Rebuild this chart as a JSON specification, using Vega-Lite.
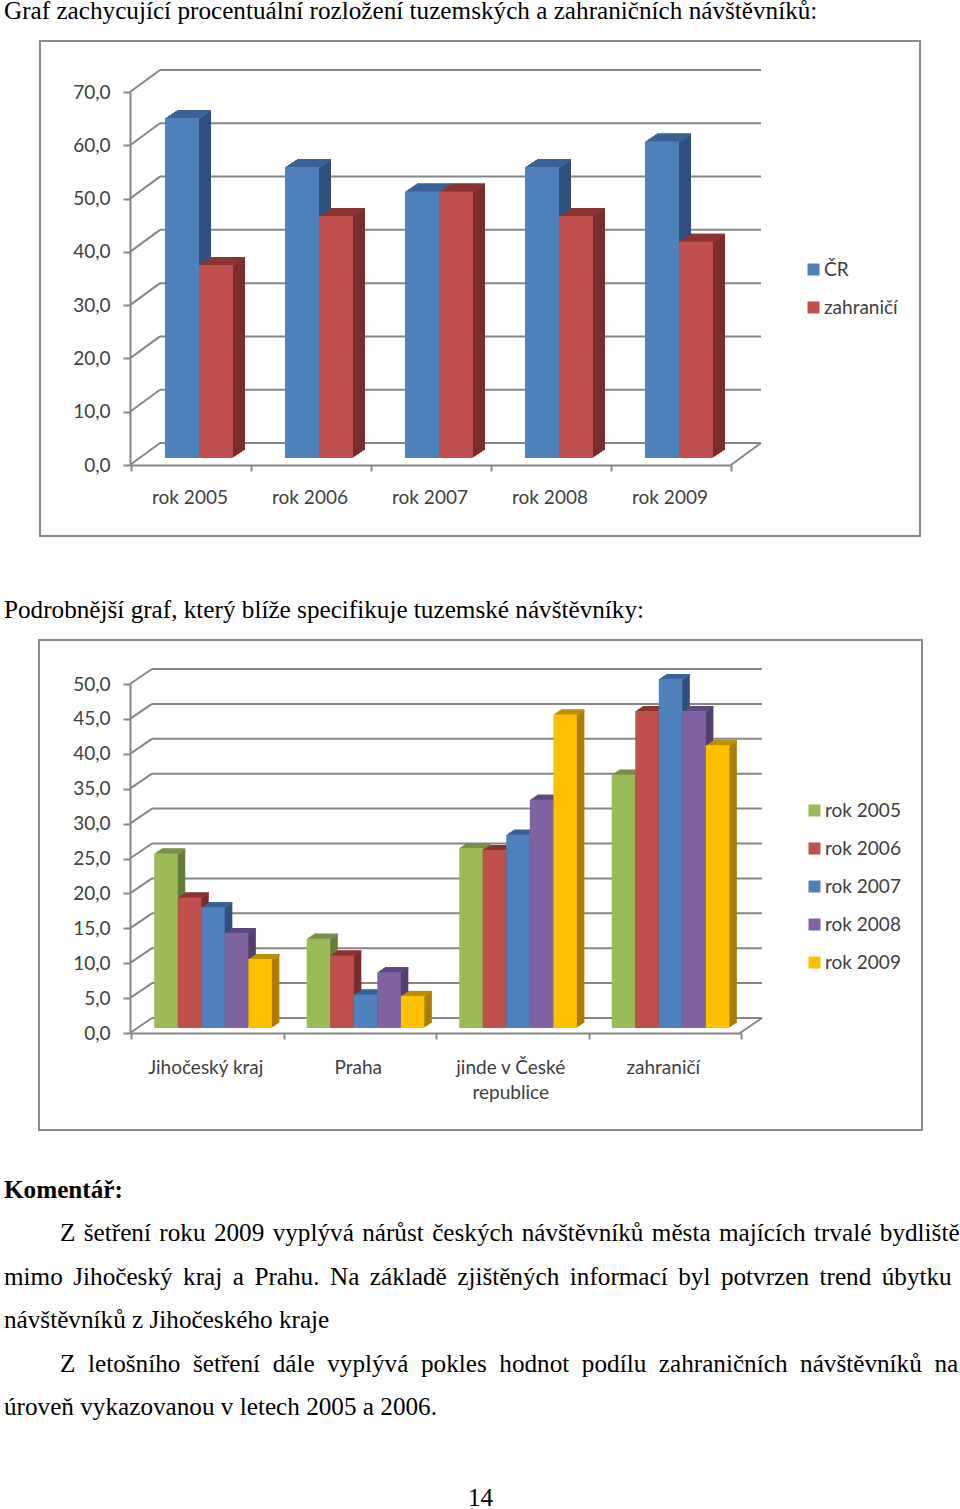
{"$schema":"https://vega.github.io/schema/vega-lite/v6.json","width":960,"height":1509,"padding":0,"autosize":{"type":"none"},"background":"white","config":{"view":{"stroke":null},"axis":{"labelFont":"Lato","labelFontSize":19,"labelColor":"#404040","domainColor":"#868686","domainWidth":2,"tickColor":"#868686","tickWidth":2,"grid":false,"title":null},"legend":{"labelFont":"Lato","labelFontSize":19,"labelColor":"#404040","symbolType":"square","symbolStrokeWidth":0,"symbolSize":144,"title":null,"padding":0}},
"datasets":{
"c1":[{"rok":"rok 2005","skupina":"ČR","podil":63.8},{"rok":"rok 2005","skupina":"zahraničí","podil":36.2},{"rok":"rok 2006","skupina":"ČR","podil":54.6},{"rok":"rok 2006","skupina":"zahraničí","podil":45.4},{"rok":"rok 2007","skupina":"ČR","podil":50.0},{"rok":"rok 2007","skupina":"zahraničí","podil":50.0},{"rok":"rok 2008","skupina":"ČR","podil":54.6},{"rok":"rok 2008","skupina":"zahraničí","podil":45.4},{"rok":"rok 2009","skupina":"ČR","podil":59.4},{"rok":"rok 2009","skupina":"zahraničí","podil":40.6}],
"c2":[{"misto":"Jihočeský kraj","rok":"rok 2005","podil":25.0},{"misto":"Jihočeský kraj","rok":"rok 2006","podil":18.7},{"misto":"Jihočeský kraj","rok":"rok 2007","podil":17.3},{"misto":"Jihočeský kraj","rok":"rok 2008","podil":13.6},{"misto":"Jihočeský kraj","rok":"rok 2009","podil":9.9},{"misto":"Praha","rok":"rok 2005","podil":12.8},{"misto":"Praha","rok":"rok 2006","podil":10.4},{"misto":"Praha","rok":"rok 2007","podil":4.8},{"misto":"Praha","rok":"rok 2008","podil":8.0},{"misto":"Praha","rok":"rok 2009","podil":4.6},{"misto":"jinde v České republice","rok":"rok 2005","podil":25.8},{"misto":"jinde v České republice","rok":"rok 2006","podil":25.5},{"misto":"jinde v České republice","rok":"rok 2007","podil":27.7},{"misto":"jinde v České republice","rok":"rok 2008","podil":32.7},{"misto":"jinde v České republice","rok":"rok 2009","podil":44.9},{"misto":"zahraničí","rok":"rok 2005","podil":36.3},{"misto":"zahraničí","rok":"rok 2006","podil":45.4},{"misto":"zahraničí","rok":"rok 2007","podil":50.0},{"misto":"zahraničí","rok":"rok 2008","podil":45.4},{"misto":"zahraničí","rok":"rok 2009","podil":40.5}],
"t1":[{"v":0},{"v":10},{"v":20},{"v":30},{"v":40},{"v":50},{"v":60},{"v":70}],
"t2":[{"v":0},{"v":5},{"v":10},{"v":15},{"v":20},{"v":25},{"v":30},{"v":35},{"v":40},{"v":45},{"v":50}],
"one":[{"v":0}],
"txt":[{"line":1,"level":0,"text":"Graf zachycující procentuální rozložení tuzemských a zahraničních návštěvníků:"},{"line":2,"level":0,"text":"Podrobnější graf, který blíže specifikuje tuzemské návštěvníky:"},{"line":3,"level":0,"bold":true,"text":"Komentář:"},{"line":4,"level":1,"text":"Z \u200ašetření \u200aroku \u200a2009 \u200avyplývá \u200anárůst \u200ačeských \u200anávštěvníků \u200aměsta \u200amajících \u200atrvalé \u200abydliště"},{"line":5,"level":0,"text":"mimo \u2006Jihočeský \u2006kraj \u2006a \u2006Prahu. \u2006Na \u2006základě \u2006zjištěných \u2006informací \u2006byl \u2006potvrzen \u2006trend \u2006úbytku"},{"line":6,"level":0,"text":"návštěvníků z Jihočeského kraje"},{"line":7,"level":1,"text":"Z \u2005letošního \u2005šetření \u2005dále \u2005vyplývá \u2005pokles \u2005hodnot \u2005podílu \u2005zahraničních \u2005návštěvníků \u2005na"},{"line":8,"level":0,"text":"úroveň vykazovanou v letech 2005 a 2006."},{"line":9,"level":2,"text":"14"}]
},
"layer":[
{"data":{"name":"one"},"mark":{"type":"rect","fillOpacity":0,"stroke":"#8a8a8a","strokeWidth":2},"encoding":{"x":{"datum":0,"type":"quantitative","axis":null,"scale":{"domain":[0,1],"range":[40,920]}},"x2":{"datum":1},"y":{"datum":0,"type":"quantitative","axis":null,"scale":{"domain":[0,1],"range":[536,41]}},"y2":{"datum":1}}},
{"data":{"name":"one"},"mark":{"type":"rect","fillOpacity":0,"stroke":"#8a8a8a","strokeWidth":2},"encoding":{"x":{"datum":0,"type":"quantitative","axis":null,"scale":{"domain":[0,1],"range":[39,922]}},"x2":{"datum":1},"y":{"datum":0,"type":"quantitative","axis":null,"scale":{"domain":[0,1],"range":[1130,640]}},"y2":{"datum":1}}},
{"data":{"name":"t1"},"mark":{"type":"rule","color":"#868686","strokeWidth":2,"xOffset":30,"x2Offset":30,"yOffset":-22,"y2Offset":-22},"encoding":{"x":{"datum":0,"type":"quantitative","axis":null,"scale":{"domain":[0,1],"range":[130,731]}},"x2":{"datum":1},"y":{"field":"v","type":"quantitative","axis":{"orient":"left","offset":-130,"zindex":1,"values":[0,10,20,30,40,50,60,70],"tickSize":7,"labelPadding":13,"labelExpr":"replace(format(datum.value,'.1f'),'.',',')"},"scale":{"domain":[0,70],"range":[465,92]}},"y2":{"field":"v"}}},
{"data":{"name":"t1"},"encoding":{"x":{"datum":0,"type":"quantitative","axis":null,"scale":{"domain":[0,1],"range":[130,731]}},"x2":{"datum":0},"y":{"field":"v","type":"quantitative","axis":null,"scale":{"domain":[0,70],"range":[465,92]}},"y2":{"field":"v"}},"layer":[
{"mark":{"type":"rule","color":"#868686","strokeWidth":2,"x2Offset":30,"y2Offset":-22}},
{"transform":[{"filter":"datum.v==0"}],"mark":{"type":"rule","color":"#868686","strokeWidth":2,"x2Offset":30,"y2Offset":-22},"encoding":{"x":{"datum":1,"type":"quantitative"},"x2":{"datum":1}}}
]},
{"data":{"name":"c1"},"resolve":{"scale":{"xOffset":"independent"}},"encoding":{"x":{"field":"rok","type":"nominal","axis":null,"scale":{"range":[131,731],"padding":0}},"y":{"field":"podil","type":"quantitative","axis":null,"scale":{"domain":[0,70],"range":[465,92]}},"y2":{"datum":0},"color":{"field":"skupina","type":"nominal","legend":null,"scale":{"domain":["ČR","zahraničí"],"range":["#2f5080","#7a2d2c"]}}},"layer":[
{"mark":{"type":"rect","yOffset":-15,"y2Offset":-15},"encoding":{"xOffset":{"field":"skupina","type":"nominal","scale":{"domain":["ČR","zahraničí"],"paddingInner":0,"paddingOuter":0.765,"range":[20,140]}}}},
{"mark":{"type":"rect","yOffset":-14,"y2Offset":-14},"encoding":{"xOffset":{"field":"skupina","type":"nominal","scale":{"domain":["ČR","zahraničí"],"paddingInner":0,"paddingOuter":0.765,"range":[18.5,138.5]}}}},
{"mark":{"type":"rect","yOffset":-13,"y2Offset":-13},"encoding":{"xOffset":{"field":"skupina","type":"nominal","scale":{"domain":["ČR","zahraničí"],"paddingInner":0,"paddingOuter":0.765,"range":[17,137]}}}},
{"mark":{"type":"rect","yOffset":-12,"y2Offset":-12},"encoding":{"xOffset":{"field":"skupina","type":"nominal","scale":{"domain":["ČR","zahraničí"],"paddingInner":0,"paddingOuter":0.765,"range":[15.5,135.5]}}}},
{"mark":{"type":"rect","yOffset":-11,"y2Offset":-11},"encoding":{"xOffset":{"field":"skupina","type":"nominal","scale":{"domain":["ČR","zahraničí"],"paddingInner":0,"paddingOuter":0.765,"range":[14,134]}}}},
{"mark":{"type":"rect","yOffset":-10,"y2Offset":-10},"encoding":{"xOffset":{"field":"skupina","type":"nominal","scale":{"domain":["ČR","zahraničí"],"paddingInner":0,"paddingOuter":0.765,"range":[12.5,132.5]}}}},
{"mark":{"type":"rect","yOffset":-9,"y2Offset":-9},"encoding":{"xOffset":{"field":"skupina","type":"nominal","scale":{"domain":["ČR","zahraničí"],"paddingInner":0,"paddingOuter":0.765,"range":[11,131]}}}},
{"mark":{"type":"rect","yOffset":-8,"y2Offset":-8},"encoding":{"xOffset":{"field":"skupina","type":"nominal","scale":{"domain":["ČR","zahraničí"],"paddingInner":0,"paddingOuter":0.765,"range":[9.5,129.5]}}}}
]},
{"data":{"name":"c1"},"resolve":{"scale":{"xOffset":"independent"}},"encoding":{"x":{"field":"rok","type":"nominal","axis":null,"scale":{"range":[131,731],"padding":0}},"y":{"field":"podil","type":"quantitative","axis":null,"scale":{"domain":[0,70],"range":[465,92]}},"y2":{"field":"podil"},"color":{"field":"skupina","type":"nominal","legend":null,"scale":{"domain":["ČR","zahraničí"],"range":["#3a6294","#8a3532"]}}},"layer":[
{"mark":{"type":"rect","yOffset":-15,"y2Offset":-13},"encoding":{"xOffset":{"field":"skupina","type":"nominal","scale":{"domain":["ČR","zahraničí"],"paddingInner":0,"paddingOuter":0.765,"range":[20,140]}}}},
{"mark":{"type":"rect","yOffset":-14,"y2Offset":-12},"encoding":{"xOffset":{"field":"skupina","type":"nominal","scale":{"domain":["ČR","zahraničí"],"paddingInner":0,"paddingOuter":0.765,"range":[18.5,138.5]}}}},
{"mark":{"type":"rect","yOffset":-13,"y2Offset":-11},"encoding":{"xOffset":{"field":"skupina","type":"nominal","scale":{"domain":["ČR","zahraničí"],"paddingInner":0,"paddingOuter":0.765,"range":[17,137]}}}},
{"mark":{"type":"rect","yOffset":-12,"y2Offset":-10},"encoding":{"xOffset":{"field":"skupina","type":"nominal","scale":{"domain":["ČR","zahraničí"],"paddingInner":0,"paddingOuter":0.765,"range":[15.5,135.5]}}}},
{"mark":{"type":"rect","yOffset":-11,"y2Offset":-9},"encoding":{"xOffset":{"field":"skupina","type":"nominal","scale":{"domain":["ČR","zahraničí"],"paddingInner":0,"paddingOuter":0.765,"range":[14,134]}}}},
{"mark":{"type":"rect","yOffset":-10,"y2Offset":-8},"encoding":{"xOffset":{"field":"skupina","type":"nominal","scale":{"domain":["ČR","zahraničí"],"paddingInner":0,"paddingOuter":0.765,"range":[12.5,132.5]}}}},
{"mark":{"type":"rect","yOffset":-9,"y2Offset":-7},"encoding":{"xOffset":{"field":"skupina","type":"nominal","scale":{"domain":["ČR","zahraničí"],"paddingInner":0,"paddingOuter":0.765,"range":[11,131]}}}},
{"mark":{"type":"rect","yOffset":-8,"y2Offset":-6},"encoding":{"xOffset":{"field":"skupina","type":"nominal","scale":{"domain":["ČR","zahraničí"],"paddingInner":0,"paddingOuter":0.765,"range":[9.5,129.5]}}}}
]},
{"data":{"name":"c1"},"mark":{"type":"rect","yOffset":-7,"y2Offset":-7},"encoding":{"x":{"field":"rok","type":"nominal","axis":null,"scale":{"range":[131,731],"padding":0}},"xOffset":{"field":"skupina","type":"nominal","scale":{"domain":["ČR","zahraničí"],"paddingInner":0,"paddingOuter":0.765,"range":[8,128]}},"y":{"field":"podil","type":"quantitative","axis":null,"scale":{"domain":[0,70],"range":[465,92]}},"y2":{"datum":0},"color":{"field":"skupina","type":"nominal","legend":{"orient":"none","legendX":804,"legendY":260,"rowPadding":18,"labelOffset":1},"scale":{"domain":["ČR","zahraničí"],"range":["#4f81bd","#c0504d"]}}}},
{"data":{"name":"c1"},"mark":{"type":"rect","opacity":0},"encoding":{"x":{"field":"rok","type":"nominal","axis":{"orient":"bottom","offset":-1044,"labelAngle":0,"tickBand":"extent","tickSize":6,"labelPadding":17,"labelOffset":-1.5},"scale":{"range":[131,731],"padding":0}},"y":{"datum":0,"type":"quantitative","axis":null,"scale":{"domain":[0,70],"range":[465,92]}},"y2":{"datum":0}}},
{"data":{"name":"t2"},"mark":{"type":"rule","color":"#868686","strokeWidth":2,"xOffset":22,"x2Offset":22,"yOffset":-15,"y2Offset":-15},"encoding":{"x":{"datum":0,"type":"quantitative","axis":null,"scale":{"domain":[0,1],"range":[130,740]}},"x2":{"datum":1},"y":{"field":"v","type":"quantitative","axis":{"orient":"left","offset":-130,"zindex":1,"values":[0,5,10,15,20,25,30,35,40,45,50],"tickSize":7,"labelPadding":13,"labelExpr":"replace(format(datum.value,'.1f'),'.',',')"},"scale":{"domain":[0,50],"range":[1033,684]}},"y2":{"field":"v"}}},
{"data":{"name":"t2"},"encoding":{"x":{"datum":0,"type":"quantitative","axis":null,"scale":{"domain":[0,1],"range":[130,740]}},"x2":{"datum":0},"y":{"field":"v","type":"quantitative","axis":null,"scale":{"domain":[0,50],"range":[1033,684]}},"y2":{"field":"v"}},"layer":[
{"mark":{"type":"rule","color":"#868686","strokeWidth":2,"x2Offset":22,"y2Offset":-15}},
{"transform":[{"filter":"datum.v==0"}],"mark":{"type":"rule","color":"#868686","strokeWidth":2,"x2Offset":22,"y2Offset":-15},"encoding":{"x":{"datum":1,"type":"quantitative"},"x2":{"datum":1}}}
]},
{"data":{"name":"c2"},"resolve":{"scale":{"xOffset":"independent"}},"encoding":{"x":{"field":"misto","type":"nominal","axis":null,"sort":["Jihočeský kraj","Praha","jinde v České republice","zahraničí"],"scale":{"range":[131,741],"padding":0}},"y":{"field":"podil","type":"quantitative","axis":null,"scale":{"domain":[0,50],"range":[1033,684]}},"y2":{"datum":0},"color":{"field":"rok","type":"nominal","legend":null,"scale":{"range":["#667c3a","#7a2d2c","#2f5080","#533f6f","#a87f00"]}}},"layer":[
{"mark":{"type":"rect","yOffset":-10,"y2Offset":-10},"encoding":{"xOffset":{"field":"rok","type":"nominal","scale":{"paddingInner":0,"paddingOuter":0.741,"range":[13.3,165.8]}}}},
{"mark":{"type":"rect","yOffset":-9,"y2Offset":-9},"encoding":{"xOffset":{"field":"rok","type":"nominal","scale":{"paddingInner":0,"paddingOuter":0.741,"range":[11.8,164.3]}}}},
{"mark":{"type":"rect","yOffset":-8,"y2Offset":-8},"encoding":{"xOffset":{"field":"rok","type":"nominal","scale":{"paddingInner":0,"paddingOuter":0.741,"range":[10.3,162.8]}}}},
{"mark":{"type":"rect","yOffset":-7,"y2Offset":-7},"encoding":{"xOffset":{"field":"rok","type":"nominal","scale":{"paddingInner":0,"paddingOuter":0.741,"range":[8.8,161.3]}}}},
{"mark":{"type":"rect","yOffset":-6,"y2Offset":-6},"encoding":{"xOffset":{"field":"rok","type":"nominal","scale":{"paddingInner":0,"paddingOuter":0.741,"range":[7.3,159.8]}}}}
]},
{"data":{"name":"c2"},"resolve":{"scale":{"xOffset":"independent"}},"encoding":{"x":{"field":"misto","type":"nominal","axis":null,"sort":["Jihočeský kraj","Praha","jinde v České republice","zahraničí"],"scale":{"range":[131,741],"padding":0}},"y":{"field":"podil","type":"quantitative","axis":null,"scale":{"domain":[0,50],"range":[1033,684]}},"y2":{"field":"podil"},"color":{"field":"rok","type":"nominal","legend":null,"scale":{"range":["#7a9147","#8a3532","#3a6294","#5e4980","#bd8f00"]}}},"layer":[
{"mark":{"type":"rect","yOffset":-10,"y2Offset":-8},"encoding":{"xOffset":{"field":"rok","type":"nominal","scale":{"paddingInner":0,"paddingOuter":0.741,"range":[13.3,165.8]}}}},
{"mark":{"type":"rect","yOffset":-9,"y2Offset":-7},"encoding":{"xOffset":{"field":"rok","type":"nominal","scale":{"paddingInner":0,"paddingOuter":0.741,"range":[11.8,164.3]}}}},
{"mark":{"type":"rect","yOffset":-8,"y2Offset":-6},"encoding":{"xOffset":{"field":"rok","type":"nominal","scale":{"paddingInner":0,"paddingOuter":0.741,"range":[10.3,162.8]}}}},
{"mark":{"type":"rect","yOffset":-7,"y2Offset":-5},"encoding":{"xOffset":{"field":"rok","type":"nominal","scale":{"paddingInner":0,"paddingOuter":0.741,"range":[8.8,161.3]}}}},
{"mark":{"type":"rect","yOffset":-6,"y2Offset":-4},"encoding":{"xOffset":{"field":"rok","type":"nominal","scale":{"paddingInner":0,"paddingOuter":0.741,"range":[7.3,159.8]}}}}
]},
{"data":{"name":"c2"},"mark":{"type":"rect","yOffset":-5,"y2Offset":-5},"encoding":{"x":{"field":"misto","type":"nominal","sort":["Jihočeský kraj","Praha","jinde v České republice","zahraničí"],"axis":null,"scale":{"range":[131,741],"padding":0}},"xOffset":{"field":"rok","type":"nominal","scale":{"paddingInner":0,"paddingOuter":0.741,"range":[5.8,158.3]}},"y":{"field":"podil","type":"quantitative","axis":null,"scale":{"domain":[0,50],"range":[1033,684]}},"y2":{"datum":0},"color":{"field":"rok","type":"nominal","legend":{"orient":"none","legendX":805,"legendY":801,"rowPadding":18,"labelOffset":1},"scale":{"range":["#9bbb59","#c0504d","#4f81bd","#8064a2","#ffc000"]}}}},
{"data":{"name":"c2"},"mark":{"type":"rect","opacity":0},"encoding":{"x":{"field":"misto","type":"nominal","sort":["Jihočeský kraj","Praha","jinde v České republice","zahraničí"],"axis":{"orient":"bottom","offset":-476,"labelAngle":0,"tickBand":"extent","tickSize":6,"labelPadding":19,"labelLineHeight":25,"labelOffset":-2,"labelExpr":"datum.label=='jinde v České republice'?['jinde v České','republice']:datum.label"},"scale":{"range":[131,741],"padding":0}},"y":{"datum":0,"type":"quantitative","axis":null,"scale":{"domain":[0,50],"range":[1033,684]}},"y2":{"datum":0}}},
{"data":{"name":"txt"},"encoding":{"x":{"field":"level","type":"quantitative","axis":null,"scale":{"domain":[0,1,2],"range":[4,60,468]}},"y":{"field":"line","type":"quantitative","axis":null,"scale":{"domain":[1,2,3,4,8,9],"range":[19,618,1198,1241,1415,1506]}},"text":{"field":"text","type":"nominal"}},"layer":[
{"transform":[{"filter":"!datum.bold"}],"mark":{"type":"text","align":"left","baseline":"alphabetic","font":"Liberation Serif","fontSize":25.2,"color":"black"}},
{"transform":[{"filter":"datum.bold"}],"mark":{"type":"text","align":"left","baseline":"alphabetic","font":"Liberation Serif","fontSize":25.2,"fontWeight":"bold","color":"black"}}
]}
],
"resolve":{"scale":{"x":"independent","y":"independent","color":"independent","xOffset":"independent"},"axis":{"x":"independent","y":"independent"},"legend":{"color":"independent"}}}
